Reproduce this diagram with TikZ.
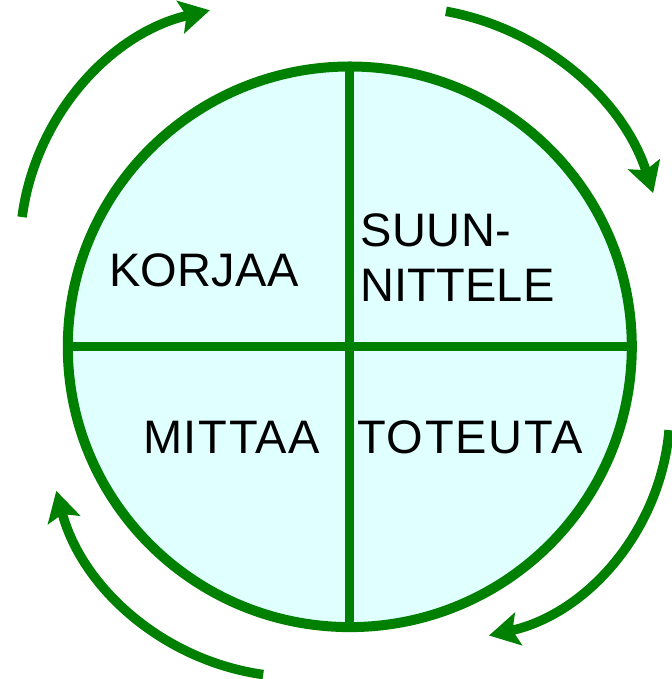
\documentclass[tikz,border=0pt]{standalone}
\usepackage{fontspec}
\setmainfont{Liberation Sans}
\usetikzlibrary{arrows.meta,calc}
\definecolor{ringgreen}{HTML}{008000}
\definecolor{cellfill}{HTML}{E0FFFF}
\begin{document}
\begin{tikzpicture}[x=1pt,y=1pt,
  ring/.style={draw=ringgreen,line width=10pt,fill=cellfill},
  divider/.style={draw=ringgreen,line width=9pt},
  cyclearrow/.style={draw=ringgreen,line width=9.5pt,-{Stealth[length=30pt,width=33pt,inset=6pt]}},
  label/.style={anchor=base west,inner sep=0pt,font=\fontsize{47}{55}\selectfont,text=black}]
\useasboundingbox (0,0) rectangle (671,679);
\coordinate (c) at (349.8,332.2);
\draw[ring] (c) ellipse[x radius=282,y radius=280.3];
\coordinate (top) at (349,612.5);
\coordinate (bot) at (349,52);
\coordinate (lft) at (68,332.5);
\coordinate (rgt) at (631.5,332.5);
\draw[divider] (top) -- (bot);
\draw[divider] (lft) -- (rgt);
\node[label] (korjaa) at (109,392) {\addfontfeature{LetterSpace=0.6}KORJAA};
\node[label] (suun) at (360,432) {\addfontfeature{LetterSpace=1.2}SUUN-};
\node[label] (nitt) at (360,377) {\addfontfeature{LetterSpace=0.4}NITTELE};
\node[label] (mittaa) at (143,225) {\addfontfeature{LetterSpace=3.5}MITTAA};
\node[label] (toteuta) at (357,225) {\addfontfeature{LetterSpace=3.9}TOTEUTA};
% cycle arrows
\coordinate (a1) at (265,430);
\coordinate (a2) at (398,404);
\coordinate (a3) at (439,269);
\coordinate (a4) at (298,252);
\draw[cyclearrow] ($(a1)+(172.5:245)$) arc[start angle=172.5,end angle=103,radius=245];
\draw[cyclearrow] ($(a2)+(79.7:268)$) arc[start angle=79.7,end angle=17.8,radius=268];
\draw[cyclearrow] ($(a3)+(-5:231)$) arc[start angle=-5,end angle=-77.5,radius=231];
\draw[cyclearrow] ($(a4)+(262:250)$) arc[start angle=262,end angle=194.8,radius=250];
\end{tikzpicture}
\end{document}
